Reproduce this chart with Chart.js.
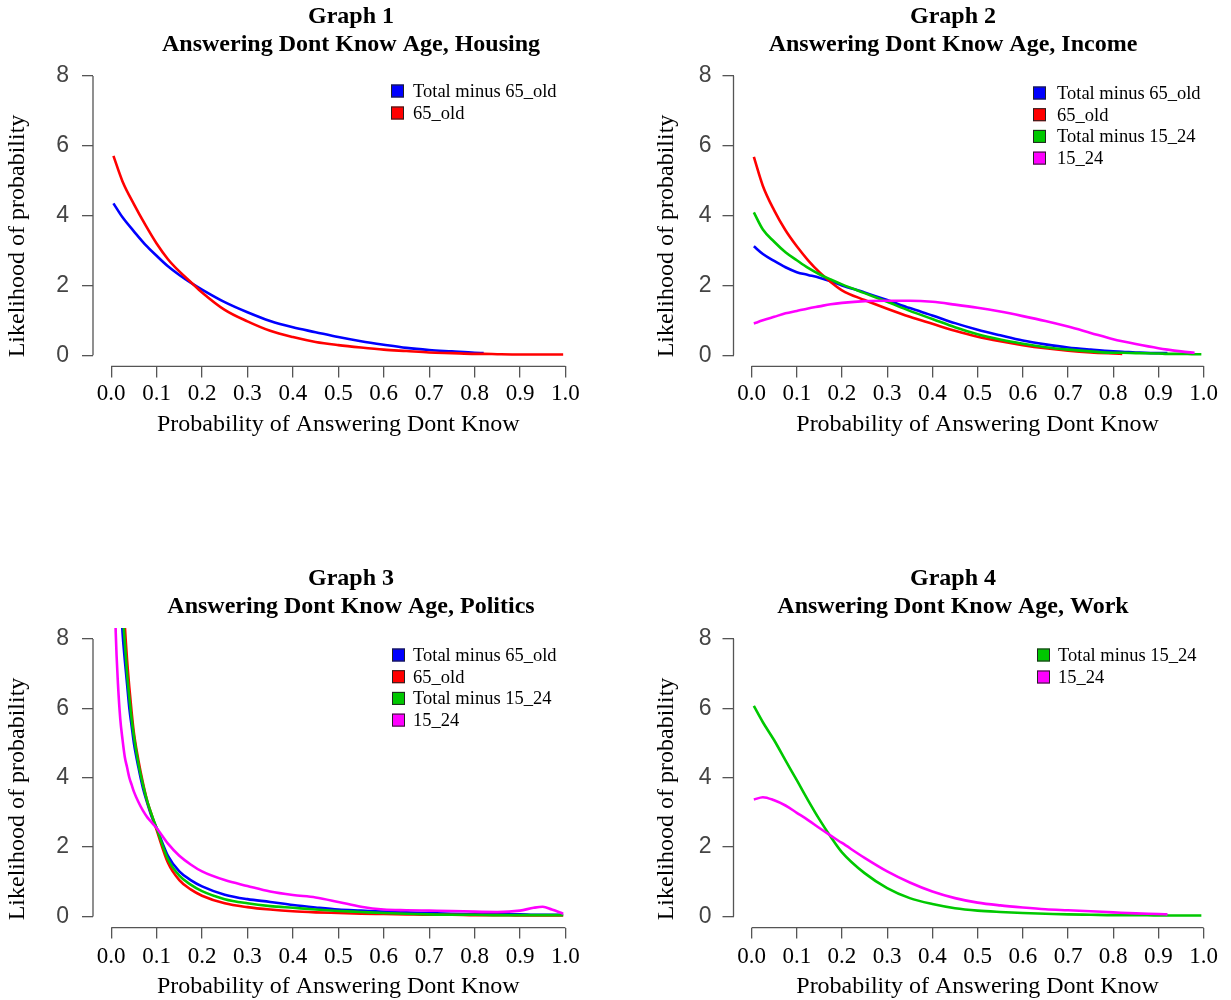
<!DOCTYPE html>
<html>
<head>
<meta charset="utf-8">
<script src="https://cdn.jsdelivr.net/npm/chart.js@4.4.1/dist/chart.umd.min.js"></script>
<style>
html,body{margin:0;padding:0;background:#ffffff;width:1231px;height:1000px;overflow:hidden;}
canvas{position:absolute;display:block;}
</style>
</head>
<body>
<canvas id="c1" width="615" height="450" style="left:0px;top:0px"></canvas>
<canvas id="c2" width="616" height="450" style="left:615px;top:0px"></canvas>
<canvas id="c3" width="615" height="440" style="left:0px;top:560px"></canvas>
<canvas id="c4" width="616" height="440" style="left:615px;top:560px"></canvas>
<script>
// ---------------- data ----------------
const xTickValues = [0.0, 0.1, 0.2, 0.3, 0.4, 0.5, 0.6, 0.7, 0.8, 0.9, 1.0];
const yTickValues = [0, 2, 4, 6, 8];

const nameTotal65 = 'Total minus 65_old';
const nameOld65 = '65_old';
const nameTotal1524 = 'Total minus 15_24';
const nameYoung1524 = '15_24';

const titles = [
  ['Graph 1', 'Answering Dont Know Age, Housing'],
  ['Graph 2', 'Answering Dont Know Age, Income'],
  ['Graph 3', 'Answering Dont Know Age, Politics'],
  ['Graph 4', 'Answering Dont Know Age, Work']
];
const xAxisTitle = 'Probability of Answering Dont Know';
const yAxisTitle = 'Likelihood of probability';

// Graph 1 – Housing
const g1X       = [0.005,0.025,0.05,0.075,0.1,0.125,0.15,0.175,0.2,0.25,0.3,0.35,0.4,0.45,0.5,0.55,0.6,0.65,0.7,0.75,0.8,0.82,0.85,0.9,0.95,0.995];
const g1Total65 = [4.35,3.95,3.55,3.17,2.85,2.55,2.3,2.08,1.88,1.52,1.23,0.98,0.8,0.66,0.52,0.4,0.3,0.21,0.15,0.11,0.07,0.06,null,null,null,null];
const g1Old65   = [5.71,4.98,4.33,3.74,3.2,2.75,2.4,2.1,1.8,1.3,0.97,0.7,0.52,0.38,0.29,0.22,0.16,0.12,0.08,0.06,0.04,0.04,0.03,0.02,0.02,0.02];

// Graph 2 – Income
const g2X          = [0.005,0.025,0.05,0.075,0.1,0.125,0.15,0.175,0.2,0.25,0.3,0.35,0.4,0.45,0.5,0.55,0.6,0.65,0.7,0.75,0.8,0.82,0.85,0.9,0.92,0.95,0.98,0.995];
const g2Total65    = [3.12,2.9,2.7,2.52,2.38,2.3,2.22,2.12,2.0,1.8,1.58,1.35,1.14,0.92,0.73,0.57,0.42,0.31,0.22,0.16,0.11,0.1,0.08,0.06,0.06,null,null,null];
const g2Old65      = [5.68,4.85,4.15,3.58,3.12,2.72,2.38,2.1,1.86,1.58,1.33,1.1,0.9,0.7,0.53,0.4,0.29,0.2,0.13,0.08,0.05,0.04,null,null,null,null,null,null];
const g2Total1524  = [4.09,3.6,3.25,2.95,2.72,2.5,2.32,2.17,2.03,1.78,1.53,1.27,1.04,0.8,0.6,0.45,0.33,0.23,0.16,0.11,0.07,0.07,0.06,0.05,0.04,0.04,0.03,0.03];
const g2Young1524  = [0.91,1.0,1.1,1.2,1.27,1.34,1.4,1.46,1.5,1.55,1.56,1.56,1.53,1.45,1.36,1.25,1.12,0.98,0.82,0.64,0.46,0.4,0.32,0.2,0.16,0.11,0.07,null];

// Graph 3 – Politics
const g3X          = [0.005,0.01,0.015,0.02,0.025,0.03,0.035,0.04,0.045,0.05,0.06,0.07,0.08,0.09,0.1,0.125,0.15,0.175,0.2,0.25,0.3,0.35,0.4,0.45,0.5,0.55,0.6,0.65,0.7,0.75,0.8,0.85,0.9,0.93,0.95,0.97,0.995];
const g3Total65    = [16,13.5,11.5,9.5,8.2,7.4,6.7,6.0,5.5,5.0,4.3,3.7,3.25,2.85,2.55,1.75,1.3,1.05,0.87,0.63,0.5,0.42,0.33,0.26,0.2,0.17,0.14,0.12,0.1,0.08,0.07,0.06,0.06,0.05,0.05,0.05,0.05];
const g3Old65      = [18,15.5,13.5,11.5,9.7,8.4,7.4,6.6,5.9,5.3,4.5,3.85,3.3,2.9,2.5,1.55,1.05,0.78,0.6,0.38,0.27,0.2,0.15,0.12,0.1,0.08,0.07,0.06,0.05,0.05,0.04,0.04,0.03,0.03,0.03,0.03,0.03];
const g3Total1524  = [17,14.5,12.5,10.5,8.9,7.9,7.0,6.3,5.7,5.2,4.4,3.8,3.3,2.9,2.55,1.65,1.18,0.92,0.73,0.5,0.38,0.3,0.25,0.2,0.16,0.13,0.1,0.08,0.06,0.05,0.05,0.04,0.04,0.04,0.04,0.04,0.04];
const g3Young1524  = [11,8.2,6.7,5.7,5.1,4.6,4.3,4.0,3.8,3.6,3.3,3.05,2.85,2.7,2.55,2.1,1.75,1.5,1.3,1.05,0.88,0.72,0.62,0.55,0.42,0.28,0.2,0.18,0.17,0.16,0.14,0.13,0.17,0.25,0.28,0.2,0.08];

// Graph 4 – Work
const g4X          = [0.005,0.025,0.05,0.075,0.1,0.125,0.15,0.175,0.2,0.25,0.3,0.35,0.4,0.45,0.5,0.55,0.6,0.65,0.7,0.75,0.8,0.85,0.9,0.92,0.95,0.995];
const g4Total1524  = [6.07,5.6,5.08,4.5,3.93,3.35,2.8,2.3,1.85,1.25,0.82,0.53,0.36,0.24,0.17,0.13,0.1,0.08,0.06,0.05,0.04,0.04,0.03,0.03,0.03,0.03];
const g4Young1524  = [3.37,3.44,3.35,3.2,2.99,2.78,2.55,2.33,2.12,1.69,1.3,0.98,0.72,0.53,0.4,0.32,0.26,0.21,0.18,0.15,0.12,0.09,0.07,0.06,null,null];

// ---------------- styles / layout ----------------
const COLORS = {blue:'#0000ff', red:'#ff0000', green:'#00c800', magenta:'#ff00ff'};
const SERIF = '"Liberation Serif", "Times New Roman", serif';
const SANS = '"Liberation Sans", Arial, sans-serif';
const AXIS_COLOR = '#555555';

const panels = [
  {canvas:'c1', left:0,   top:0,   w:615, h:450, area:[93,64.8,583.6,366.4],   titleX:351, titleY:[17,45],   yTitle:[18,236],  yTickPad:13, xTickPad:3,   xTitlePad:13,
   legend:{sq:391,  tx:413,  y0:91,  dy:22},
   series:[{label:nameTotal65, y:g1Total65, color:COLORS.blue},{label:nameOld65, y:g1Old65, color:COLORS.red}], x:g1X, title:titles[0]},
  {canvas:'c2', left:615, top:0,   w:616, h:450, area:[733.5,64.8,1221.7,366.4], titleX:953, titleY:[17,45], yTitle:[667,236], yTickPad:11, xTickPad:3,   xTitlePad:13,
   legend:{sq:1033, tx:1057, y0:93,  dy:21.7},
   series:[{label:nameTotal65, y:g2Total65, color:COLORS.blue},{label:nameOld65, y:g2Old65, color:COLORS.red},{label:nameTotal1524, y:g2Total1524, color:COLORS.green},{label:nameYoung1524, y:g2Young1524, color:COLORS.magenta}], x:g2X, title:titles[1]},
  {canvas:'c3', left:0,   top:560, w:615, h:440, area:[93,627.9,583.6,927.6],  titleX:351, titleY:[579,607], yTitle:[18,799],  yTickPad:13, xTickPad:4.5, xTitlePad:1,
   legend:{sq:392,  tx:413,  y0:655, dy:21.7},
   series:[{label:nameTotal65, y:g3Total65, color:COLORS.blue},{label:nameOld65, y:g3Old65, color:COLORS.red},{label:nameTotal1524, y:g3Total1524, color:COLORS.green},{label:nameYoung1524, y:g3Young1524, color:COLORS.magenta}], x:g3X, title:titles[2]},
  {canvas:'c4', left:615, top:560, w:616, h:440, area:[733.5,627.9,1221.7,927.6], titleX:953, titleY:[579,607], yTitle:[667,799], yTickPad:11, xTickPad:4.5, xTitlePad:1,
   legend:{sq:1037, tx:1058, y0:655, dy:22},
   series:[{label:nameTotal1524, y:g4Total1524, color:COLORS.green},{label:nameYoung1524, y:g4Young1524, color:COLORS.magenta}], x:g4X, title:titles[3]}
];

// plugin: R-style axis lines, main titles, y title, legend
const rDecor = {
  id: 'rDecor',
  afterDraw(chart, args, o) {
    const p = o.panel;
    const {ctx, chartArea} = chart;
    const xs = chart.scales.x, ys = chart.scales.y;
    ctx.save();
    ctx.strokeStyle = AXIS_COLOR;
    ctx.lineWidth = 1.3;
    ctx.beginPath();
    ctx.moveTo(chartArea.left, ys.getPixelForValue(yTickValues[0]));
    ctx.lineTo(chartArea.left, ys.getPixelForValue(yTickValues[yTickValues.length-1]));
    ctx.moveTo(xs.getPixelForValue(xTickValues[0]), chartArea.bottom);
    ctx.lineTo(xs.getPixelForValue(xTickValues[xTickValues.length-1]), chartArea.bottom);
    ctx.stroke();
    ctx.fillStyle = '#000';
    ctx.textAlign = 'center';
    ctx.textBaseline = 'middle';
    ctx.font = 'bold 24px ' + SERIF;
    p.title.forEach((t, i) => ctx.fillText(t, p.titleX - p.left, p.titleY[i] - p.top));
    ctx.save();
    ctx.translate(p.yTitle[0] - p.left, p.yTitle[1] - p.top);
    ctx.rotate(-Math.PI / 2);
    ctx.font = '24px ' + SERIF;
    ctx.fillText(yAxisTitle, 0, 0);
    ctx.restore();
    ctx.font = '18.5px ' + SERIF;
    ctx.textAlign = 'left';
    chart.data.datasets.forEach((ds, i) => {
      const cy = p.legend.y0 + i * p.legend.dy - p.top;
      const sx = p.legend.sq - p.left;
      ctx.fillStyle = ds.borderColor;
      ctx.fillRect(sx, cy - 6.5, 13, 13);
      ctx.strokeStyle = '#222';
      ctx.lineWidth = 1;
      ctx.strokeRect(sx + 0.5, cy - 6.5 + 0.5, 12, 12);
      ctx.fillStyle = '#000';
      ctx.fillText(ds.label, p.legend.tx - p.left, cy + 1);
    });
    ctx.restore();
  }
};

panels.forEach(p => {
  const [aL, aT, aR, aB] = p.area;
  const n = p.series.length;
  const datasets = p.series.map((s, i) => ({
    label: s.label,
    data: p.x.map((xv, k) => ({x: xv, y: s.y[k]})),
    borderColor: s.color,
    backgroundColor: s.color,
    borderWidth: 2.6,
    pointRadius: 0,
    fill: false,
    spanGaps: false,
    cubicInterpolationMode: 'monotone',
    order: n - i
  }));
  new Chart(document.getElementById(p.canvas), {
    type: 'line',
    data: {datasets},
    options: {
      responsive: false,
      animation: false,
      events: [],
      layout: {padding: {left: 0, top: aT - p.top, right: p.w - (aR - p.left), bottom: 0}},
      plugins: {legend: {display: false}, title: {display: false}, tooltip: {enabled: false}, rDecor: {panel: p}},
      scales: {
        x: {
          type: 'linear', min: -0.04, max: 1.04,
          afterBuildTicks: s => { s.ticks = xTickValues.map(v => ({value: v})); },
          afterFit: s => { s.height = (p.top + p.h) - aB; },
          grid: {display: true, drawOnChartArea: false, drawTicks: true, tickLength: 11, color: AXIS_COLOR, lineWidth: 1.3},
          border: {display: false},
          ticks: {autoSkip: false, maxRotation: 0, minRotation: 0, padding: p.xTickPad, color: '#000',
                  font: {family: SERIF, size: 23, lineHeight: 1.2}, callback: v => Number(v).toFixed(1)},
          title: {display: true, text: xAxisTitle, color: '#000', font: {family: SERIF, size: 24, lineHeight: 1}, padding: {top: 0, bottom: p.xTitlePad}}
        },
        y: {
          type: 'linear', min: -0.32, max: 8.32,
          afterBuildTicks: s => { s.ticks = yTickValues.map(v => ({value: v})); },
          afterFit: s => { s.width = aL - p.left; },
          grid: {display: true, drawOnChartArea: false, drawTicks: true, tickLength: 11, color: AXIS_COLOR, lineWidth: 1.3},
          border: {display: false},
          ticks: {padding: p.yTickPad, color: '#444', font: {family: SANS, size: 23}, callback: v => String(v)},
          title: {display: false}
        }
      }
    },
    plugins: [rDecor]
  });
});
</script>
</body>
</html>
